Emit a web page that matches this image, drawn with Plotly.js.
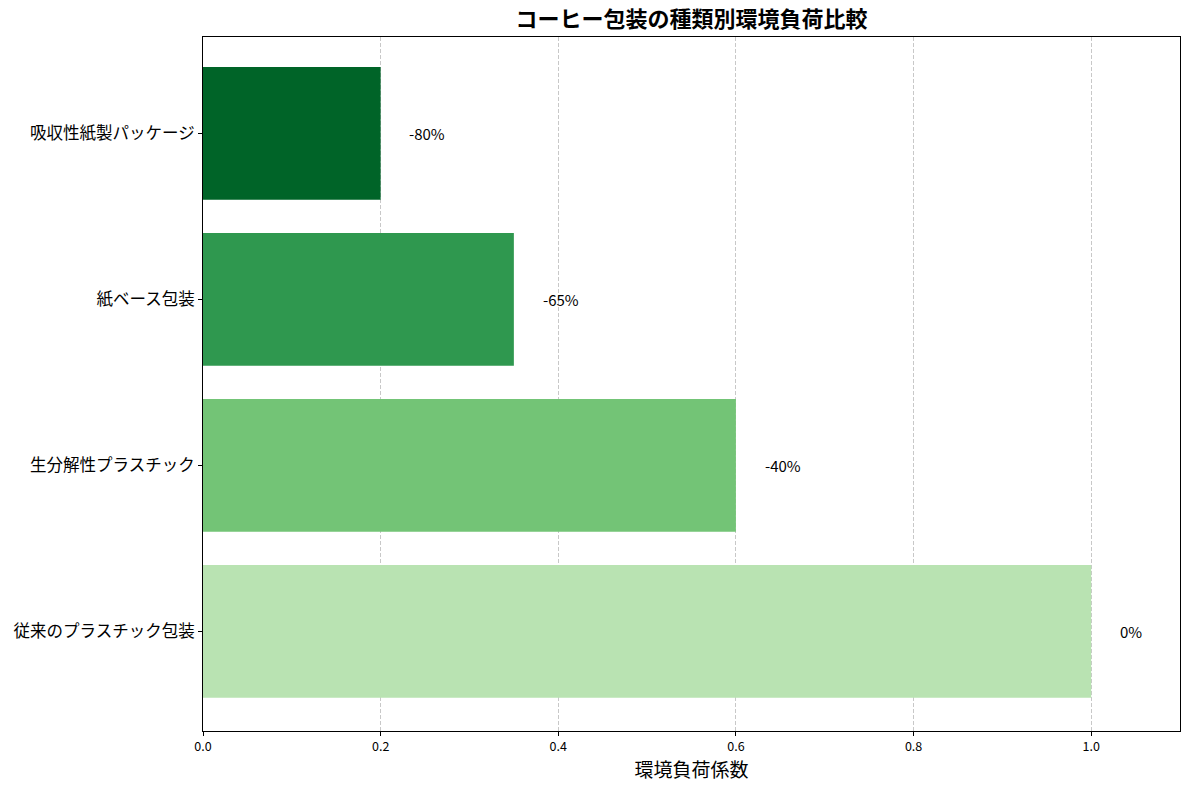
<!DOCTYPE html>
<html>
<head>
<meta charset="utf-8">
<script src="https://cdn.plot.ly/plotly-3.0.1.min.js"></script>
<style>
  body { margin: 0; background: #fff; }
  #chart { width: 1189px; height: 790px; }
</style>
</head>
<body>
<div id="chart"></div>
<script>
// data, bottom to top
var categories = ['従来のプラスチック包装', '生分解性プラスチック', '紙ベース包装', '吸収性紙製パッケージ'];
var impactValues = [1.0, 0.6, 0.35, 0.2];
var reductionLabels = ['0%', '-40%', '-65%', '-80%'];
var barColors = ['#b9e3b2', '#73c476', '#2f984f', '#006428'];

var fontFam = '"Noto Sans CJK JP", "Noto Sans", sans-serif';

var annots = impactValues.map(function(v, i) {
    return {
        x: v + 0.03, y: i, xref: 'x', yref: 'y',
        text: reductionLabels[i], showarrow: false,
        xanchor: 'left', yanchor: 'middle',
        font: { family: fontFam, size: 15, color: '#000' }
    };
});

var trace = {
    type: 'bar',
    orientation: 'h',
    x: impactValues,
    y: [0, 1, 2, 3],
    width: 0.8,
    marker: { color: barColors, line: { width: 0 } },
    hoverinfo: 'x'
};

var layout = {
    width: 1189, height: 790,
    margin: { l: 203, r: 9, t: 37, b: 59 },
    paper_bgcolor: '#fff', plot_bgcolor: '#fff',
    showlegend: false,
    font: { family: fontFam, color: '#000' },
    title: {
        text: '<b>コーヒー包装の種類別環境負荷比較</b>',
        font: { family: fontFam, size: 22, color: '#000' },
        x: 0.5, xref: 'paper', y: 0.975, yanchor: 'middle'
    },
    xaxis: {
        range: [0, 1.1],
        tickvals: [0, 0.2, 0.4, 0.6, 0.8, 1.0],
        ticktext: ['0.0', '0.2', '0.4', '0.6', '0.8', '1.0'],
        ticks: 'outside', ticklen: 4, tickcolor: '#000',
        tickfont: { size: 12.5 },
        showline: true, linecolor: '#000', linewidth: 1, mirror: true,
        showgrid: true, gridcolor: '#c8c8c8', griddash: '4px,2px', gridwidth: 1,
        zeroline: false,
        title: { text: '環境負荷係数', font: { size: 19 }, standoff: 8 }
    },
    yaxis: {
        range: [-0.6, 3.58],
        tickvals: [0, 1, 2, 3],
        ticktext: categories,
        ticks: 'outside', ticklen: 4, tickcolor: '#000',
        tickfont: { size: 16.5 },
        showline: true, linecolor: '#000', linewidth: 1, mirror: true,
        showgrid: false, zeroline: false
    },
    annotations: annots
};

Plotly.newPlot('chart', [trace], layout, { displayModeBar: false, staticPlot: true });
</script>
</body>
</html>
